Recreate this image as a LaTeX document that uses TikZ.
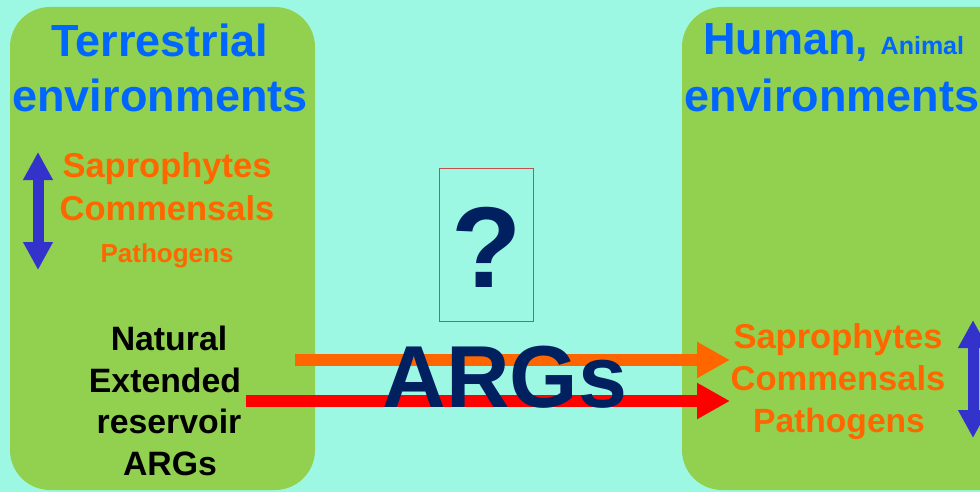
\documentclass[tikz,border=0pt]{standalone}
\usepackage{fontspec}
\setmainfont{Liberation Sans}
\usetikzlibrary{arrows.meta}
\definecolor{bgc}{HTML}{9CF8E2}
\definecolor{boxg}{HTML}{92D050}
\definecolor{ttl}{HTML}{0066FF}
\definecolor{org}{HTML}{FF6600}
\definecolor{navy}{HTML}{002060}
\definecolor{arrb}{HTML}{3333CC}
\definecolor{rbord}{HTML}{C0504D}
\newcommand{\fs}[1]{\fontsize{#1}{#1}\selectfont\bfseries}
\tikzset{
  envbox/.style={fill=boxg, draw=none, rounded corners=40pt},
  lbl/.style={inner sep=0pt, anchor=base, font=\fs{34.5}, text=org},
  ttltxt/.style={inner sep=0pt, anchor=base, font=\fs{45}, text=ttl},
  blk/.style={inner sep=0pt, anchor=base, font=\fs{33.8}, text=black},
  dbl/.style={arrb, line width=11pt, {Triangle[length=28pt,width=28pt]}-{Triangle[length=28pt,width=28pt]}},
  flow/.style={line width=11.5pt, -{Triangle[length=33pt,width=34pt]}}
}
\begin{document}
\begin{tikzpicture}[x=1pt,y=-1pt]
\useasboundingbox (0,0) rectangle (980,492);
\clip (0,0) rectangle (980,492);
\fill[bgc] (0,0) rectangle (980,492);
% boxes
\fill[envbox] (10,7) rectangle (315,490);
\fill[envbox] (682,7) rectangle (1030,490);
% left titles
\node[ttltxt] (t1) at (160,57) {Terrestrial};
\node[ttltxt] (t2) at (160,112) {environments};
\node[lbl] (ls) at (167,177) {Saprophytes};
\node[lbl] (lc) at (167,220) {Commensals};
\node[lbl, font=\fs{26}] (lp) at (167,262) {Pathogens};
\coordinate (la1) at (38,152);
\coordinate (la2) at (38,270);
\draw[dbl] (la1) -- (la2);
\node[blk] (n1) at (169,350) {Natural};
\node[blk] (n2) at (165,392) {Extended};
\node[blk] (n3) at (169,433) {reservoir};
\node[blk] (n4) at (170,475) {ARGs};
% right titles
\node[inner sep=0pt, anchor=base west, text=ttl] (h1) at (703,55) {\fs{45}Human, \fs{25}Animal};
\node[ttltxt, anchor=base west] (h2) at (684,112) {environments};
\node[lbl] (rs) at (838,348) {Saprophytes};
\node[lbl] (rc) at (838,390) {Commensals};
\node[lbl, font=\fs{33.6}] (rp) at (839,432) {Pathogens};
\coordinate (ra1) at (973,320);
\coordinate (ra2) at (973,438);
\draw[dbl] (ra1) -- (ra2);
% flows
\coordinate (o1) at (295,360);
\coordinate (o2) at (730,360);
\coordinate (r1) at (246,401);
\coordinate (r2) at (730,401);
\draw[flow, org] (o1) -- (o2);
\draw[flow, red] (r1) -- (r2);
% centre
\node[draw=rbord, line width=0.8pt, minimum width=94pt, minimum height=153pt, inner sep=0pt] (qb) at (486,244.5) {};
\node[inner sep=0pt, anchor=base, font=\fs{115}, text=navy] (q) at (487,287) {?};
\node[inner sep=0pt, anchor=base, font=\fs{88}, text=navy] (args) at (505,407) {ARGs};
\end{tikzpicture}
\end{document}
